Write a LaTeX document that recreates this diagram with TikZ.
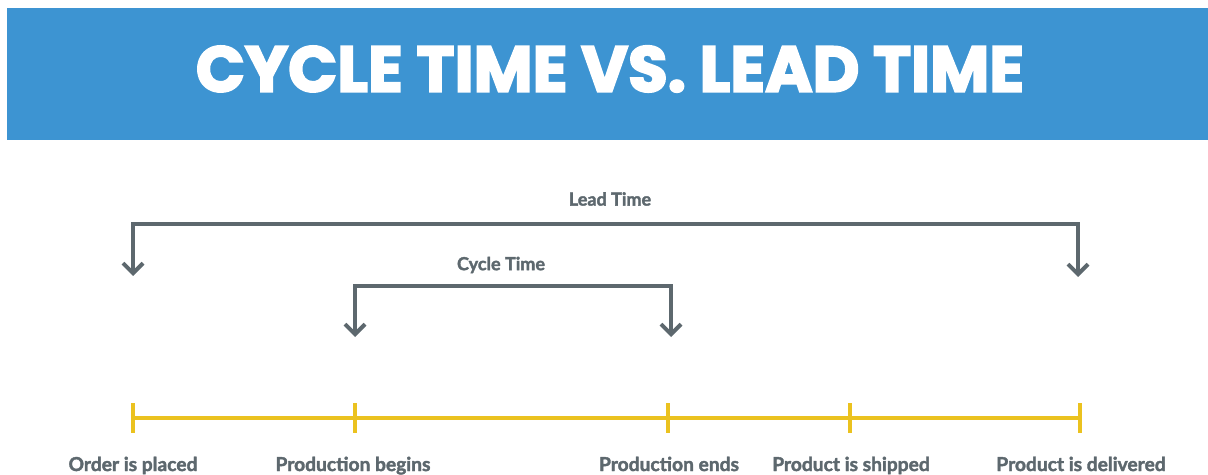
\documentclass[tikz,border=0pt]{standalone}
\usepackage{fontspec}
\setmainfont{Lato}
\newfontfamily\heavyfont{Poppins}[BoldFeatures={FakeBold=3}]
\newfontfamily\labelfont{Lato}[BoldFeatures={FakeBold=2}]
\usepackage{xcolor}
\definecolor{headblue}{HTML}{3D94D2}
\definecolor{slate}{HTML}{5D686E}
\definecolor{mustard}{HTML}{EBC21F}
\usetikzlibrary{arrows.meta,calc}

\begin{document}
\begin{tikzpicture}[x=0.5pt,y=-0.5pt,
    title/.style={text=white, font=\heavyfont\fontsize{32.2}{36}\selectfont\bfseries},
    event/.style={anchor=base, text=slate, font=\labelfont\fontsize{9.6}{11}\selectfont\bfseries},
    span/.style={text=slate, font=\labelfont\fontsize{9}{11}\selectfont\bfseries},
    bracket/.style={slate, line width=2pt, {Straight Barb[length=5pt,width=10pt]}-{Straight Barb[length=5pt,width=10pt]}},
    timeline/.style={mustard, line width=2pt}]
  \useasboundingbox (0,0) rectangle (1208,475);
  % Header band
  \fill[headblue] (7,8) rectangle (1208,140);
  \node[title] (title) at (610,69) {CYCLE TIME VS. LEAD TIME};
  % Timeline with ticks
  \foreach \n/\x in {order/133,start/355,finish/668,ship/850,deliver/1080}
    \coordinate (\n) at (\x,418);
  \draw[timeline] (order) -- (deliver);
  \foreach \n in {order,start,finish,ship,deliver}
    \draw[timeline] ($(\n)+(0,-15)$) -- ($(\n)+(0,15)$);
  % Event names
  \node[event] (order-lbl) at (133,471) {Order is placed};
  \node[event] (start-lbl) at (353,471) {Production begins};
  \node[event] (finish-lbl) at (669,471) {Production ends};
  \node[event] (ship-lbl) at (851,471) {Product is shipped};
  \node[event] (deliver-lbl) at (1081,471) {Product is delivered};
  % Lead time bracket
  \coordinate (lead-a) at (133,276);
  \coordinate (lead-b) at (1078,277);
  \draw[bracket] (lead-a) -- ++(0,-52) -| (lead-b);
  \node[span] (lead-lbl) at (610,199) {Lead Time};
  % Cycle time bracket
  \coordinate (cycle-a) at (355,337);
  \coordinate (cycle-b) at (671,337);
  \draw[bracket] (cycle-a) -- ++(0,-51) -| (cycle-b);
  \node[span] (cycle-lbl) at (501,265) {Cycle Time};
\end{tikzpicture}
\end{document}
